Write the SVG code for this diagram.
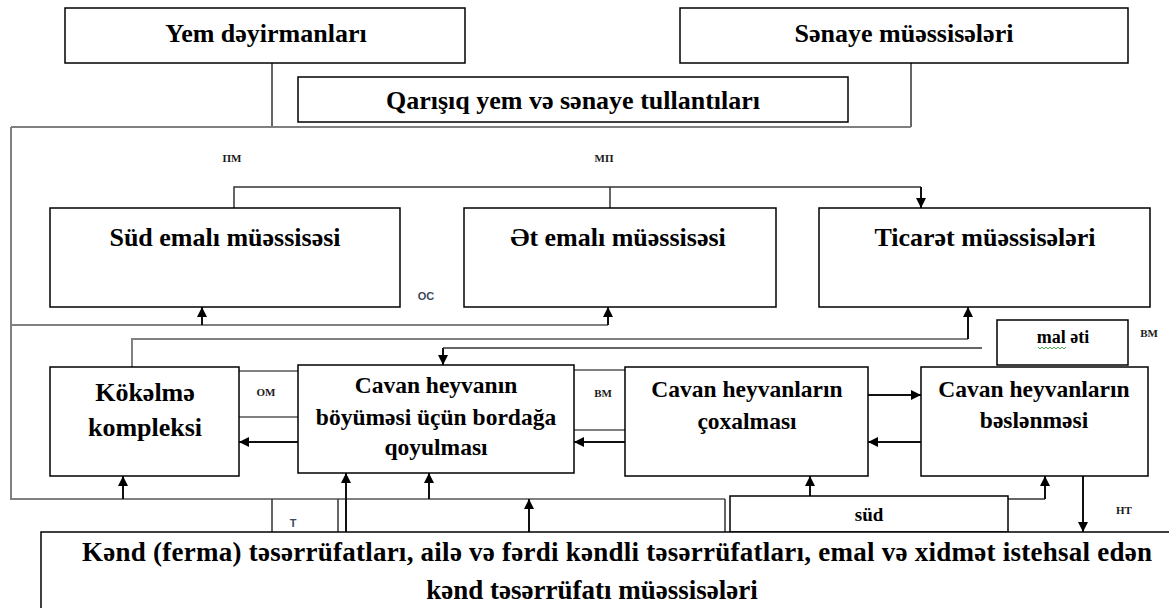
<svg xmlns="http://www.w3.org/2000/svg" width="1169" height="608" viewBox="0 0 1169 608">
<style>
.box{fill:#fff;stroke:#000;stroke-width:1.5}
.t{font-family:"Liberation Serif","Times New Roman",serif;font-weight:bold;fill:#000;text-anchor:middle}
.t26{font-size:26px}
.t24{font-size:23.5px}
.lbl{font-family:"Liberation Serif","Times New Roman",serif;font-weight:bold;font-size:11px;fill:#1a1a1a;text-anchor:middle}
.lbs{font-family:"Liberation Sans",Arial,sans-serif;font-weight:bold;font-size:11px;fill:#3c4b5c;text-anchor:middle}
.c{fill:none;stroke:#333;stroke-width:1.5}
.g{fill:none;stroke:#808080;stroke-width:2}
.a{fill:none;stroke:#111;stroke-width:2;marker-end:url(#ah)}
</style>
<defs>
<marker id="ah" markerUnits="userSpaceOnUse" markerWidth="10" markerHeight="10" viewBox="0 0 10 10" refX="10" refY="5" orient="auto">
<path d="M0,0 L10,5 L0,10 z" fill="#000"/>
</marker>
</defs>
<rect width="1169" height="608" fill="#fff"/>

<g id="connectors">
<path class="c" d="M272,63 V127"/>
<path class="c" d="M911,63 V127"/>
<path class="g" d="M11,127 H911"/>
<path class="g" d="M11,127 V499 H725"/>
<path class="c" d="M234,208 V187 H921"/>
<path class="a" d="M921,187 V208"/>
<path class="c" d="M610,187 V208"/>
<path class="g" d="M11,325 H608"/>
<path class="a" d="M608,325 V307"/>
<path class="a" d="M202,325 V307"/>
<path class="g" d="M132,367 V339 H968"/>
<path class="a" d="M968,339 V307"/>
<path class="c" d="M982,348 H443"/>
<path class="a" d="M443,348 V365"/>
<path class="g" d="M239,371 H298"/>
<path class="g" d="M239,417 H298"/>
<path class="a" d="M298,442 H239"/>
<path class="g" d="M574,370 H625"/>
<path class="g" d="M574,430 H625"/>
<path class="a" d="M625,442 H574"/>
<path class="a" d="M868,395 H921"/>
<path class="a" d="M921,442 H868"/>
<path class="a" d="M123,499 V476"/>
<path class="a" d="M429,499 V473"/>
<path class="a" d="M346,532 V473"/>
<path class="c" d="M338,499 V532"/>
<path class="c" d="M272,499 V532"/>
<path class="a" d="M529,532 V499"/>
<path class="c" d="M725,499 V532"/>
<path class="a" d="M810,496 V476"/>
<path class="c" d="M1008,499 H1045"/>
<path class="a" d="M1045,499 V476"/>
<path class="a" d="M1083,476 V532"/>
</g>

<g id="yem">
<rect class="box" x="65" y="8" width="400" height="55"/>
<text class="t t26" x="266" y="42">Yem dəyirmanları</text>
</g>
<g id="senaye">
<rect class="box" x="680" y="8" width="448" height="55"/>
<text class="t t26" x="904" y="42">Sənaye müəssisələri</text>
</g>
<g id="qarisiq">
<rect class="box" x="298" y="77" width="550" height="45"/>
<text class="t t26" x="573" y="109">Qarışıq yem və sənaye tullantıları</text>
</g>

<g id="labels">
<text class="lbl" x="232" y="162">ПМ</text>
<text class="lbl" x="604" y="162">МП</text>
<text class="lbs" x="426" y="300">OC</text>
<text class="lbl" x="266" y="396">OM</text>
<text class="lbl" x="603" y="397">BM</text>
<text class="lbl" x="1149" y="337">BM</text>
<text class="lbs" x="293" y="527">T</text>
<text class="lbl" x="1124" y="514">HT</text>
</g>

<g id="sud-emali">
<rect class="box" x="50" y="208" width="350" height="99"/>
<text class="t t26" x="225" y="246">Süd emalı müəssisəsi</text>
</g>
<g id="et-emali">
<rect class="box" x="464" y="208" width="312" height="99"/>
<text class="t t26" x="618" y="246">Ət emalı müəssisəsi</text>
</g>
<g id="ticaret">
<rect class="box" x="819" y="208" width="331" height="99"/>
<text class="t t26" x="985" y="246">Ticarət müəssisələri</text>
</g>

<g id="mal-eti">
<rect class="box" x="997" y="320" width="131" height="45"/>
<text class="t" style="font-size:18px" x="1063" y="343">mal əti</text>
<path d="M1038,347 l2,2 l2,-2 l2,2 l2,-2 l2,2 l2,-2 l2,2 l2,-2 l2,2 l2,-2 l2,2 l2,-2 l2,2 l2,-2" fill="none" stroke="#3aa33a" stroke-width="0.9"/>
</g>

<g id="kokelme">
<rect class="box" x="50" y="367" width="189" height="109"/>
<text class="t t26" x="145" y="401">Kökəlmə</text>
<text class="t t26" x="145" y="436">kompleksi</text>
</g>
<g id="bordaga">
<rect class="box" x="298" y="365" width="276" height="108"/>
<text class="t t24" x="436" y="393">Cavan heyvanın</text>
<text class="t t24" x="436" y="425">böyüməsi üçün bordağa</text>
<text class="t t24" x="436" y="455">qoyulması</text>
</g>
<g id="coxalmasi">
<rect class="box" x="625" y="367" width="243" height="109"/>
<text class="t t24" x="747" y="397">Cavan heyvanların</text>
<text class="t t24" x="747" y="429">çoxalması</text>
</g>
<g id="beslenmesi">
<rect class="box" x="921" y="367" width="227" height="109"/>
<text class="t t24" x="1034" y="397">Cavan heyvanların</text>
<text class="t t24" x="1034" y="428">bəslənməsi</text>
</g>

<g id="sud">
<rect class="box" x="730" y="496" width="278" height="36"/>
<text class="t" style="font-size:19px" x="869" y="521">süd</text>
</g>

<g id="kend">
<rect class="box" x="41" y="532" width="1140" height="90"/>
<text class="t" style="font-size:27px" x="617" y="561" textLength="1070" lengthAdjust="spacing">Kənd (ferma) təsərrüfatları, ailə və fərdi kəndli təsərrüfatları, emal və xidmət istehsal edən</text>
<text class="t" style="font-size:27px" x="592" y="599">kənd təsərrüfatı müəssisələri</text>
</g>
</svg>
